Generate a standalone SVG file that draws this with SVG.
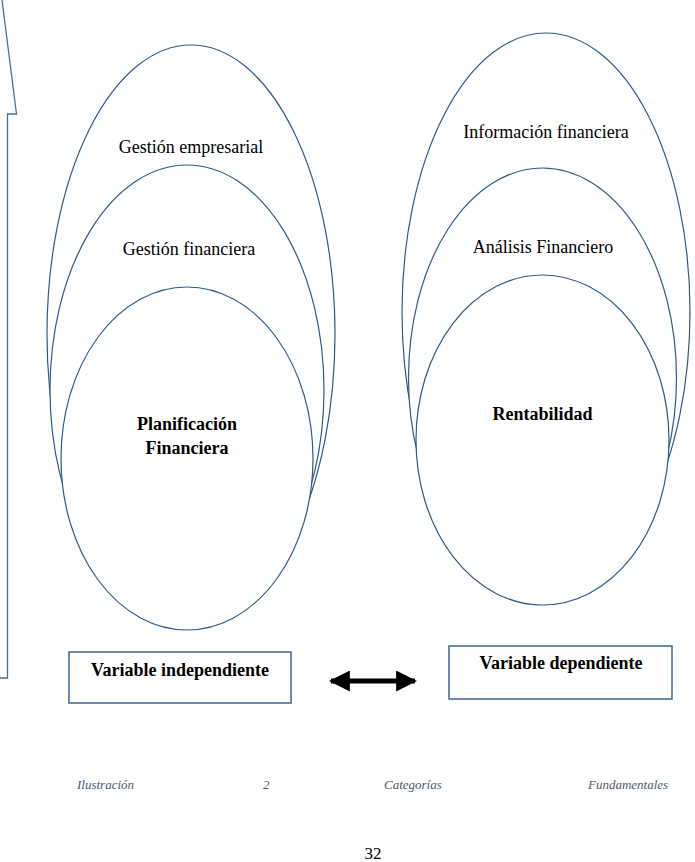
<svg xmlns="http://www.w3.org/2000/svg" width="695" height="862" viewBox="0 0 695 862">
<style>
.el{fill:#fff;stroke:#2E5A8A;stroke-width:1.2}
.bx{fill:#fff;stroke:#4A6F96;stroke-width:1.6}
.t{font-family:"Liberation Serif","Times New Roman",serif;font-size:18px;fill:#000;text-anchor:middle}
.b{font-weight:bold}
.cap{font-family:"Liberation Serif","Times New Roman",serif;font-size:13px;font-style:italic;fill:#4D5A6A}
</style>
<defs>
<marker id="ah" viewBox="0 0 10 10" refX="9" refY="5" markerWidth="4.2" markerHeight="4.2" orient="auto-start-reverse" markerUnits="strokeWidth">
<path d="M0,0 L10,5 L0,10 Z" fill="#000"/>
</marker>
</defs>
<rect width="695" height="862" fill="#fff"/>
<path d="M2,0 L16.5,114 L7.5,114 L7.5,678 L0,678" fill="none" stroke="#4A6F96" stroke-width="1.3"/>
<g id="gestion-empresarial">
<ellipse class="el" cx="191" cy="334" rx="144" ry="289"/>
<text class="t" x="191" y="153">Gestión empresarial</text>
</g>
<g id="gestion-financiera">
<ellipse class="el" cx="187" cy="390" rx="137" ry="225"/>
<text class="t" x="189" y="255">Gestión financiera</text>
</g>
<g id="planificacion-financiera">
<ellipse class="el" cx="187" cy="458.5" rx="126" ry="171.5"/>
<text class="t b" x="187" y="430">Planificación</text>
<text class="t b" x="187" y="454">Financiera</text>
</g>
<g id="informacion-financiera">
<ellipse class="el" cx="546" cy="312" rx="144" ry="279"/>
<text class="t" x="546" y="138">Información financiera</text>
</g>
<g id="analisis-financiero">
<ellipse class="el" cx="542.5" cy="378" rx="134" ry="210"/>
<text class="t" x="543" y="253">Análisis Financiero</text>
</g>
<g id="rentabilidad">
<ellipse class="el" cx="542.5" cy="440" rx="126.5" ry="165"/>
<text class="t b" x="542.5" y="420">Rentabilidad</text>
</g>
<g id="variable-independiente">
<rect class="bx" x="69" y="652" width="222" height="51"/>
<text class="t b" x="180" y="676">Variable independiente</text>
</g>
<g id="variable-dependiente">
<rect class="bx" x="449" y="646" width="223" height="53"/>
<text class="t b" x="561" y="669">Variable dependiente</text>
</g>
<g id="connectors">
<line x1="331" y1="681" x2="415" y2="681" stroke="#000" stroke-width="5" marker-start="url(#ah)" marker-end="url(#ah)"/>
</g>
<text class="cap" x="77" y="789">Ilustración</text>
<text class="cap" x="263" y="789">2</text>
<text class="cap" x="384" y="789">Categorías</text>
<text class="cap" x="588" y="789">Fundamentales</text>
<text class="t" x="373" y="859" style="font-size:17px">32</text>
</svg>
